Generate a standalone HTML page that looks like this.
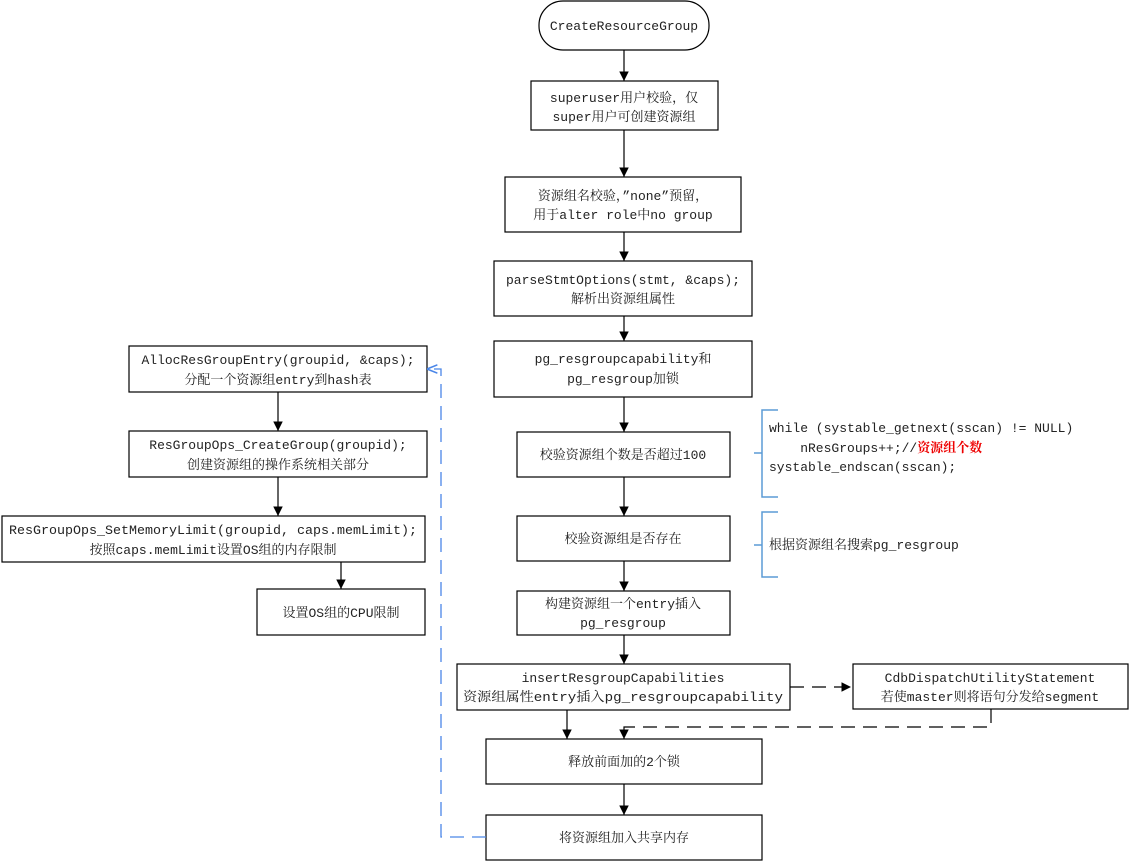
<!DOCTYPE html>
<html><head><meta charset="utf-8"><style>
body{margin:0;background:#fff}
svg text{font-family:"Liberation Mono","Noto Serif CJK SC",monospace;font-size:13px;fill:#222}
</style></head><body>
<svg width="1129" height="861" xmlns="http://www.w3.org/2000/svg">
<defs>
<marker id="a" viewBox="0 0 10 10" refX="10" refY="5" markerWidth="8" markerHeight="8" orient="auto"><path d="M0,0L10,5L0,10z" fill="#000"/></marker>
<marker id="b" viewBox="0 0 10 10" refX="10" refY="5" markerWidth="8" markerHeight="8" orient="auto"><path d="M0,1L10,5L0,9" fill="none" stroke="#4a86e8" stroke-width="1.5"/></marker>
</defs>
<g fill="#fff" stroke="#000" stroke-width="1.2">
<rect x="539" y="1" width="170" height="49" rx="24"/>
<rect x="531" y="81" width="187" height="49"/>
<rect x="505" y="177" width="236" height="55"/>
<rect x="494" y="261" width="258" height="55"/>
<rect x="494" y="341" width="258" height="56"/>
<rect x="517" y="432" width="213" height="45"/>
<rect x="517" y="516" width="213" height="45"/>
<rect x="517" y="591" width="213" height="44"/>
<rect x="457" y="664" width="333" height="46"/>
<rect x="853" y="664" width="275" height="45"/>
<rect x="486" y="739" width="276" height="45"/>
<rect x="486" y="815" width="276" height="45"/>
<rect x="129" y="346" width="298" height="46"/>
<rect x="129" y="431" width="298" height="46"/>
<rect x="2" y="516" width="423" height="46"/>
<rect x="257" y="589" width="168" height="46"/>
</g>
<g stroke="#000" stroke-width="1.2" marker-end="url(#a)">
<line x1="624" y1="50" x2="624" y2="81"/>
<line x1="624" y1="130" x2="624" y2="177"/>
<line x1="624" y1="232" x2="624" y2="261"/>
<line x1="624" y1="316" x2="624" y2="341"/>
<line x1="624" y1="397" x2="624" y2="432"/>
<line x1="624" y1="477" x2="624" y2="516"/>
<line x1="624" y1="561" x2="624" y2="591"/>
<line x1="624" y1="635" x2="624" y2="664"/>
<line x1="567" y1="710" x2="567" y2="739"/>
<line x1="624" y1="784" x2="624" y2="815"/>
<line x1="278" y1="392" x2="278" y2="431"/>
<line x1="278" y1="477" x2="278" y2="516"/>
<line x1="341" y1="562" x2="341" y2="589"/>
</g>
<g stroke="#000" stroke-width="1.2" fill="none" stroke-dasharray="14,8">
<line x1="790" y1="687" x2="851" y2="687" marker-end="url(#a)"/>
<path d="M991,709V727H624V739" marker-end="url(#a)"/>
</g>
<path d="M486,837H441V369H427" stroke="#4a86e8" stroke-width="1.3" fill="none" stroke-dasharray="14,8" marker-end="url(#b)"/>
<g stroke="#5b9bd5" stroke-width="1.5" fill="none">
<path d="M778,410H762V453H754M762,453V497H778"/>
<path d="M778,512H762V545H754M762,545V577H778"/>
</g>
<g text-anchor="middle">
<text x="624" y="30">CreateResourceGroup</text>
<text x="624" y="102">superuser用户校验，仅</text>
<text x="624" y="121">super用户可创建资源组</text>
<text x="623" y="200">资源组名校验，”none”预留，</text>
<text x="623" y="219">用于alter role中no group</text>
<text x="623" y="284">parseStmtOptions(stmt, &amp;caps);</text>
<text x="623" y="303">解析出资源组属性</text>
<text x="623" y="363">pg_resgroupcapability和</text>
<text x="623" y="383">pg_resgroup加锁</text>
<text x="623" y="459">校验资源组个数是否超过100</text>
<text x="623" y="543">校验资源组是否存在</text>
<text x="623" y="608">构建资源组一个entry插入</text>
<text x="623" y="627">pg_resgroup</text>
<text x="623" y="682">insertResgroupCapabilities</text>
<text x="623" y="701" textLength="320" lengthAdjust="spacingAndGlyphs">资源组属性entry插入pg_resgroupcapability</text>
<text x="990" y="682">CdbDispatchUtilityStatement</text>
<text x="990" y="701">若使master则将语句分发给segment</text>
<text x="624" y="766">释放前面加的2个锁</text>
<text x="624" y="842">将资源组加入共享内存</text>
<text x="278" y="364">AllocResGroupEntry(groupid, &amp;caps);</text>
<text x="278" y="384">分配一个资源组entry到hash表</text>
<text x="278" y="449">ResGroupOps_CreateGroup(groupid);</text>
<text x="278" y="469">创建资源组的操作系统相关部分</text>
<text x="213" y="534" textLength="408" lengthAdjust="spacingAndGlyphs">ResGroupOps_SetMemoryLimit(groupid, caps.memLimit);</text>
<text x="213" y="554">按照caps.memLimit设置OS组的内存限制</text>
<text x="341" y="617">设置OS组的CPU限制</text>
</g>
<text x="769" y="432" xml:space="preserve">while (systable_getnext(sscan) != NULL)</text>
<text x="769" y="452" xml:space="preserve">    nResGroups++;//<tspan style="fill:#e00;font-weight:bold">资源组个数</tspan></text>
<text x="769" y="471">systable_endscan(sscan);</text>
<text x="769" y="549">根据资源组名搜索pg_resgroup</text>
</svg>
</body></html>
